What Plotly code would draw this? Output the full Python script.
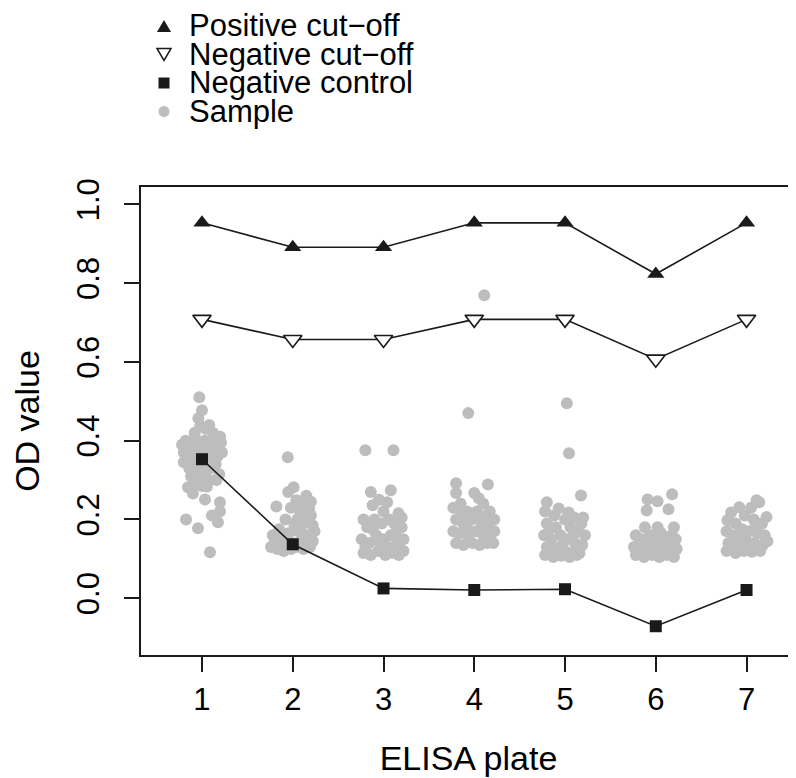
import plotly.graph_objects as go

plates = [1, 2, 3, 4, 5, 6, 7]
positive_cutoff = [0.953, 0.891, 0.891, 0.953, 0.953, 0.823, 0.953]
negative_cutoff = [0.708, 0.657, 0.657, 0.708, 0.708, 0.607, 0.708]
negative_control = [0.353, 0.137, 0.025, 0.021, 0.023, -0.071, 0.021]

# sample points per plate: horizontal jitter (plate units) and OD values
p1_dx = [-0.03, 0.0, -0.04, -0.02, 0.08, 0.12, 0.04, -0.08, 0.15,
         -0.22, -0.2, -0.18, -0.15, -0.12, -0.1, -0.08, -0.05, -0.02, 0.0, 0.03, 0.05, 0.07, 0.1,
         0.12, 0.15, 0.18, 0.2, 0.22, -0.2, -0.14, -0.06, 0.02, 0.09, 0.17, 0.21, -0.17, -0.11,
         0.13, 0.06, -0.03,
         -0.12, -0.05, 0.02, 0.08, -0.09, 0.0, 0.16, 0.19,
         -0.154, -0.1, 0.033, 0.198, 0.055, -0.176, -0.044, 0.11, 0.176, 0.198, 0.088]
p1_od = [0.51, 0.477, 0.457, 0.437, 0.44, 0.42, 0.43, 0.42, 0.41,
         0.39, 0.37, 0.40, 0.36, 0.39, 0.34, 0.41, 0.37, 0.39, 0.35, 0.40, 0.33, 0.38, 0.36,
         0.40, 0.34, 0.38, 0.41, 0.37, 0.345, 0.33, 0.325, 0.37, 0.33, 0.36, 0.395, 0.38, 0.36,
         0.38, 0.35, 0.355,
         0.31, 0.30, 0.31, 0.30, 0.29, 0.285, 0.30, 0.315,
         0.282, 0.266, 0.251, 0.244, 0.284, 0.2, 0.178, 0.21, 0.193, 0.22, 0.117]

p2_dx = [-0.055, -0.18, 0.01, -0.05, 0.11, 0.18, 0.04, 0.2, 0.15, 0.08, -0.02, 0.13, 0.22, 0.05,
         -0.08, -0.15, -0.22, -0.2, -0.12, -0.05, 0.0, 0.06, 0.1, 0.16, 0.22, 0.24, -0.24, -0.17,
         -0.1, -0.02, 0.04, 0.12, 0.19, -0.14, 0.02, 0.09, 0.17, -0.07, 0.2, 0.14]
p2_od = [0.358, 0.233, 0.282, 0.27, 0.24, 0.228, 0.249, 0.21, 0.26, 0.22, 0.23, 0.195, 0.185, 0.2,
         0.2, 0.175, 0.16, 0.14, 0.15, 0.165, 0.14, 0.17, 0.15, 0.16, 0.145, 0.17, 0.13, 0.125,
         0.12, 0.125, 0.13, 0.125, 0.13, 0.14, 0.185, 0.18, 0.2, 0.135, 0.245, 0.215]

p3_dx = [-0.2, 0.11, -0.14, 0.08, -0.12, 0.04, 0.165, -0.05, 0.0, -0.22, -0.18, -0.1, -0.02, 0.06,
         0.12, 0.2, 0.22, -0.24, -0.16, -0.08, 0.0, 0.08, 0.15, 0.22, -0.22, -0.14, -0.06, 0.02,
         0.1, 0.17, -0.04, 0.13, -0.2, 0.05, -0.12, 0.2]
p3_od = [0.376, 0.376, 0.27, 0.274, 0.236, 0.244, 0.216, 0.25, 0.22, 0.2, 0.18, 0.2, 0.19, 0.2,
         0.19, 0.18, 0.15, 0.15, 0.14, 0.16, 0.15, 0.16, 0.14, 0.12, 0.115, 0.11, 0.12, 0.11,
         0.115, 0.11, 0.14, 0.165, 0.13, 0.13, 0.175, 0.205]

p4_dx = [0.11, -0.066, -0.2, 0.15, -0.2, 0.0, 0.05, 0.1, 0.17, 0.22, -0.23, -0.15, -0.08, 0.03,
         -0.2, -0.12, -0.03, 0.08, 0.15, 0.22, -0.23, -0.16, -0.07, 0.02, 0.1, 0.18, -0.2, -0.12,
         -0.02, 0.06, 0.14, 0.21, -0.08, 0.12, -0.14, 0.06]
p4_od = [0.769, 0.47, 0.292, 0.289, 0.267, 0.267, 0.254, 0.24, 0.22, 0.2, 0.23, 0.24, 0.22, 0.22,
         0.2, 0.19, 0.2, 0.19, 0.18, 0.17, 0.17, 0.165, 0.16, 0.17, 0.16, 0.15, 0.14, 0.135,
         0.14, 0.135, 0.14, 0.14, 0.18, 0.2, 0.215, 0.21]

p5_dx = [0.02, 0.044, 0.176, -0.2, -0.07, 0.04, 0.18, -0.22, -0.12, 0.0, 0.1, -0.2, -0.1, 0.06,
         0.14, 0.22, -0.23, -0.15, -0.05, 0.03, 0.11, 0.19, -0.2, -0.1, 0.0, 0.08, 0.16, -0.22,
         -0.13, -0.04, 0.05, 0.13, -0.17, 0.09, -0.03, 0.2]
p5_od = [0.495, 0.368, 0.261, 0.244, 0.228, 0.218, 0.19, 0.22, 0.21, 0.2, 0.205, 0.19, 0.18, 0.18,
         0.17, 0.16, 0.16, 0.15, 0.16, 0.15, 0.14, 0.135, 0.13, 0.125, 0.12, 0.115, 0.115, 0.11,
         0.105, 0.108, 0.105, 0.11, 0.175, 0.16, 0.135, 0.205]

p6_dx = [-0.09, 0.02, 0.18, -0.1, 0.14, 0.2, -0.12, 0.02, -0.22, -0.15, -0.06, 0.06, 0.12, 0.22,
         -0.24, -0.17, -0.09, 0.0, 0.08, 0.16, 0.23, -0.22, -0.13, -0.04, 0.04, 0.12, 0.2, -0.18,
         0.1, -0.02, 0.18, -0.08]
p6_od = [0.251, 0.246, 0.264, 0.223, 0.226, 0.18, 0.18, 0.18, 0.16, 0.15, 0.16, 0.165, 0.155, 0.15,
         0.13, 0.125, 0.135, 0.13, 0.14, 0.13, 0.125, 0.11, 0.105, 0.11, 0.105, 0.11, 0.105, 0.14,
         0.12, 0.15, 0.16, 0.115]

p7_dx = [0.14, -0.08, -0.17, -0.21, 0.22, 0.11, 0.05, -0.02, 0.08, 0.17, -0.12, -0.22, -0.14, -0.05,
         0.03, 0.12, 0.2, -0.2, -0.1, 0.0, 0.09, 0.18, 0.23, -0.22, -0.12, -0.03, 0.06, 0.15,
         -0.07, 0.1]
p7_od = [0.244, 0.231, 0.218, 0.198, 0.206, 0.249, 0.23, 0.21, 0.2, 0.19, 0.19, 0.17, 0.16, 0.175,
         0.17, 0.165, 0.16, 0.14, 0.135, 0.145, 0.14, 0.135, 0.145, 0.12, 0.115, 0.12, 0.118, 0.12,
         0.155, 0.18]

sample_dx = [p1_dx, p2_dx, p3_dx, p4_dx, p5_dx, p6_dx, p7_dx]
sample_od = [p1_od, p2_od, p3_od, p4_od, p5_od, p6_od, p7_od]

x_ticks = [1, 2, 3, 4, 5, 6, 7]
y_ticks = [0.0, 0.2, 0.4, 0.6, 0.8, 1.0]
y_tick_text = ["0.0", "0.2", "0.4", "0.6", "0.8", "1.0"]

legend_labels = ["Positive cut\u2212off", "Negative cut\u2212off", "Negative control", "Sample"]

sx, sy = [], []
for plate, dxs, ods in zip(plates, sample_dx, sample_od):
    for d, v in zip(dxs, ods):
        sx.append(plate + d)
        sy.append(v)

FONT = "Liberation Sans, Arial, Helvetica, sans-serif"
INK = "#1a1a1a"
GREY = "#bdbdbd"

fig = go.Figure()

fig.add_trace(go.Scatter(x=sx, y=sy, mode="markers", name="Sample", showlegend=False,
                         marker=dict(symbol="circle", size=12, color=GREY, line=dict(width=0))))

for vals in (positive_cutoff, negative_cutoff, negative_control):
    fig.add_trace(go.Scatter(x=plates, y=vals, mode="lines", showlegend=False,
                             line=dict(color=INK, width=1.6), hoverinfo="skip"))

fig.add_trace(go.Scatter(x=plates, y=positive_cutoff, mode="markers", name=legend_labels[0],
                         showlegend=False,
                         marker=dict(symbol="triangle-up", size=15, color=INK, line=dict(width=0))))
fig.add_trace(go.Scatter(x=plates, y=negative_cutoff, mode="markers", name=legend_labels[1],
                         showlegend=False,
                         marker=dict(symbol="triangle-down", size=16, color="white",
                                     line=dict(color=INK, width=1.6))))
fig.add_trace(go.Scatter(x=plates, y=negative_control, mode="markers", name=legend_labels[2],
                         showlegend=False,
                         marker=dict(symbol="square", size=12, color=INK, line=dict(width=0))))

# --- legend drawn above the plot (page has an 8px body margin) ---
PLOT_W = 655
PLOT_H = 468
sym_x = (164 - 141) / PLOT_W
txt_x = (188 - 141) / PLOT_W
row_px = [26, 54.5, 83, 111.5]
row_y = [(655 - r) / PLOT_H for r in row_px]

shapes = [
    dict(type="path", xref="paper", yref="paper", xsizemode="pixel", ysizemode="pixel",
         xanchor=sym_x, yanchor=row_y[0], path="M -7,-6 L 7,-6 L 0,6 Z",
         fillcolor=INK, line=dict(width=0)),
    dict(type="path", xref="paper", yref="paper", xsizemode="pixel", ysizemode="pixel",
         xanchor=sym_x, yanchor=row_y[1], path="M -7,6 L 7,6 L 0,-6 Z",
         fillcolor="white", line=dict(color=INK, width=1.5)),
    dict(type="rect", xref="paper", yref="paper", xsizemode="pixel", ysizemode="pixel",
         xanchor=sym_x, yanchor=row_y[2], x0=-5.5, x1=5.5, y0=-5.5, y1=5.5,
         fillcolor=INK, line=dict(width=0)),
    dict(type="circle", xref="paper", yref="paper", xsizemode="pixel", ysizemode="pixel",
         xanchor=sym_x, yanchor=row_y[3], x0=-5.5, x1=5.5, y0=-5.5, y1=5.5,
         fillcolor=GREY, line=dict(width=0)),
]

annotations = [
    dict(text=lab, xref="paper", yref="paper", x=txt_x, y=yy, xanchor="left", yanchor="middle",
         showarrow=False, borderpad=0, font=dict(size=31, family=FONT, color="black"))
    for lab, yy in zip(legend_labels, row_y)
]

fig.update_layout(
    width=788, height=770,
    margin=dict(l=133, r=0, t=179, b=123),
    paper_bgcolor="white", plot_bgcolor="white",
    font=dict(family=FONT, color="black"),
    showlegend=False,
    shapes=shapes,
    annotations=annotations,
    xaxis=dict(range=[0.328, 7.545], tickmode="array", tickvals=x_ticks,
               ticktext=[str(t) for t in x_ticks],
               showgrid=False, zeroline=False, showline=True, linecolor=INK, linewidth=2,
               mirror=True, ticks="outside", ticklen=15, tickwidth=1.6, tickcolor=INK,
               tickfont=dict(size=31, family=FONT), ticklabelstandoff=1,
               title=dict(text="ELISA plate", font=dict(size=34, family=FONT), standoff=30)),
    yaxis=dict(range=[-0.144, 1.044], tickmode="array", tickvals=y_ticks, ticktext=y_tick_text,
               showgrid=False, zeroline=False, showline=True, linecolor=INK, linewidth=2,
               mirror=False, ticks="outside", ticklen=15, tickwidth=1.6, tickcolor=INK,
               tickangle=-90, tickfont=dict(size=31, family=FONT), ticklabelstandoff=13,
               title=dict(text="OD value", font=dict(size=34, family=FONT), standoff=28)),
)

fig.write_html("out.html")
